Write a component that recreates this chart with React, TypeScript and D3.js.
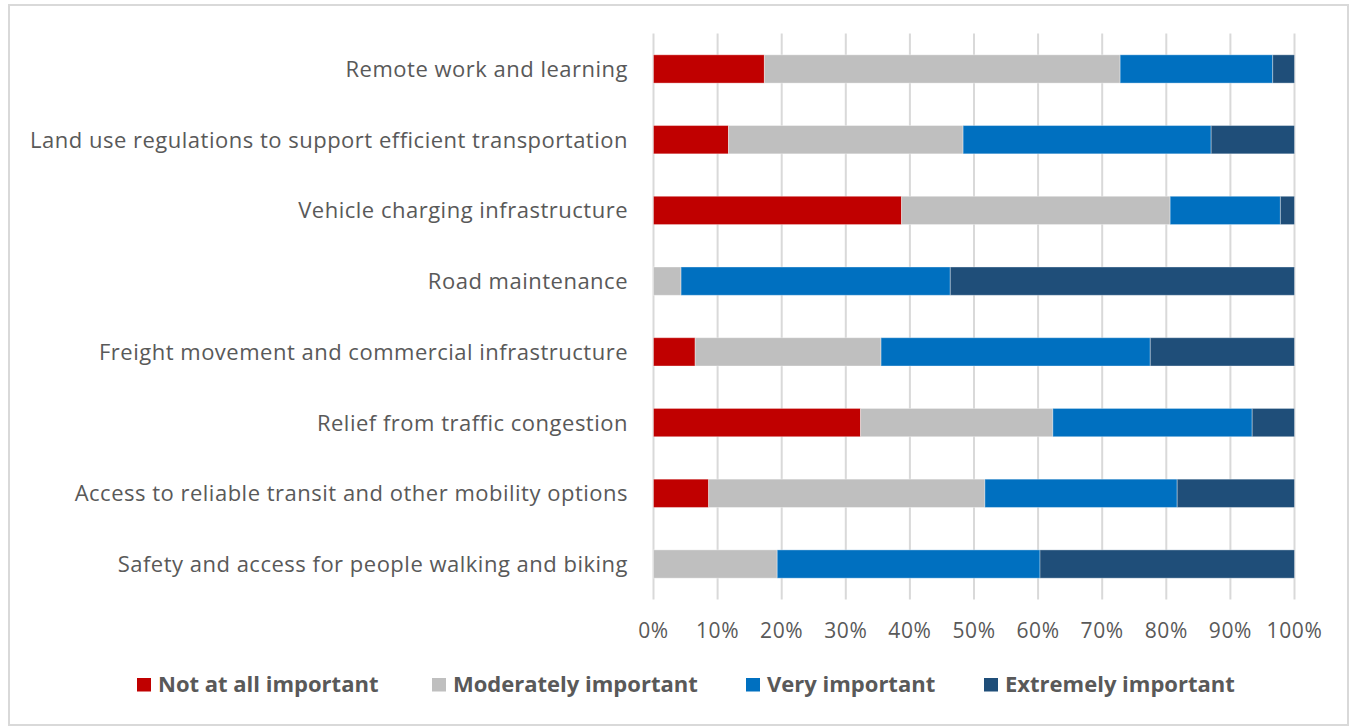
import React from "react";
import * as d3 from "d3";

const categories = [
  "Remote work and learning",
  "Land use regulations to support efficient transportation",
  "Vehicle charging infrastructure",
  "Road maintenance",
  "Freight movement and commercial infrastructure",
  "Relief from traffic congestion",
  "Access to reliable transit and other mobility options",
  "Safety and access for people walking and biking",
];
const seriesNames = ["Not at all important", "Moderately important", "Very important", "Extremely important"];
const notAtAll = [17.3, 11.7, 38.7, 0, 6.5, 32.3, 8.6, 0];
const moderately = [55.5, 36.6, 41.9, 4.3, 29.0, 30.0, 43.1, 19.3];
const very = [23.8, 38.7, 17.2, 42.0, 42.0, 31.1, 30.0, 41.0];
const extremely = [3.4, 13.0, 2.2, 53.7, 22.5, 6.6, 18.3, 39.7];
const tickValues = [0, 10, 20, 30, 40, 50, 60, 70, 80, 90, 100];
const colors = ["#C00000", "#BFBFBF", "#0070C0", "#1F4E79"];

export default function App() {
  const W = 1353, H = 728;
  const x = d3.scaleLinear().domain([0, 100]).range([653.5, 1294.5]);
  const y = d3.scaleBand<string>().domain(categories).range([33.6, 599.4]).paddingInner(0.6).paddingOuter(0.3);
  const series = [notAtAll, moderately, very, extremely];
  const rows = categories.map((c, i) => {
    const vals = series.map((s) => s[i]);
    const total = d3.sum(vals);
    let acc = 0;
    return vals.map((v, k) => {
      const x0 = (acc / total) * 100;
      acc += v;
      const x1 = (acc / total) * 100;
      return { c, k, x0, x1 };
    });
  });
  const textColor = "#595959";
  const font = "'Open Sans', sans-serif";
  const legendTextX = [158, 453, 767, 1005];
  return (
    <svg width={W} height={H} style={{ position: "absolute", left: 0, top: 0, background: "#fff" }} fontFamily={font}>
      <rect x={9} y={5} width={1339} height={720} fill="#fff" stroke="#D9D9D9" strokeWidth={2} />
      {tickValues.map((t) => (
        <line key={t} x1={x(t)} x2={x(t)} y1={33.6} y2={599.4} stroke="#D9D9D9" strokeWidth={2} />
      ))}
      {rows.map((segs, i) =>
        segs.map((s) =>
          s.x1 - s.x0 > 0 ? (
            <rect
              key={`${i}-${s.k}`}
              x={x(s.x0)}
              y={y(s.c)!}
              width={x(s.x1) - x(s.x0)}
              height={y.bandwidth()}
              fill={colors[s.k]}
              stroke="#ffffff"
              strokeOpacity={0.35}
              strokeWidth={1}
            />
          ) : null
        )
      )}
      {categories.map((c) => (
        <text key={c} x={628} y={y(c)! + y.bandwidth() / 2 + 8} textAnchor="end" fontSize={22} letterSpacing={0.5} fill={textColor}>
          {c}
        </text>
      ))}
      {tickValues.map((t) => (
        <text key={t} x={x(t)} y={637.5} textAnchor="middle" fontSize={21} letterSpacing={0.6} fill={textColor}>
          {t}%
        </text>
      ))}
      {seriesNames.map((n, k) => (
        <g key={n}>
          <rect x={legendTextX[k] - 21} y={678} width={14} height={13.5} fill={colors[k]} />
          <text x={legendTextX[k]} y={691.5} fontSize={22} fontWeight="bold" fill={textColor}>
            {n}
          </text>
        </g>
      ))}
    </svg>
  );
}
